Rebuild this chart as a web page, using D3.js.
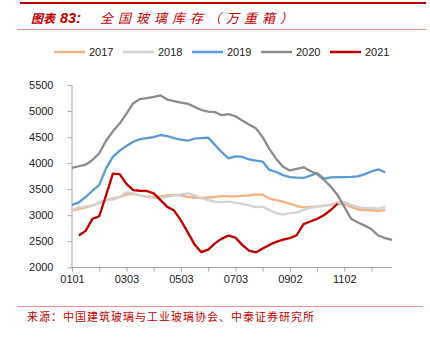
<!DOCTYPE html>
<html><head><meta charset="utf-8">
<script src="https://cdn.jsdelivr.net/npm/d3@7"></script>
<style>
html,body{margin:0;padding:0;background:#fff;}
svg{display:block;}
</style></head>
<body>
<svg id="c" width="430" height="339"></svg>
<script>
const years = ["2017","2018","2019","2020","2021"];
const colors = ["#F4B183","#D3D3D3","#5B9BD5","#8C8C8C","#C00000"];
const tickLabels = ["0101","0303","0503","0703","0902","1102"];
const yTicks = [2000,2500,3000,3500,4000,4500,5000,5500];

const s2017 = [3090,3120,3150,3190,3230,3290,3320,3350,3400,3410,3380,3360,3350,3360,3380,3390,3380,3350,3340,3330,3340,3350,3370,3360,3360,3370,3380,3400,3395,3320,3290,3260,3220,3180,3150,3160,3170,3185,3200,3215,3215,3160,3110,3100,3095,3085,3100];
const s2018 = [3110,3150,3170,3180,3250,3290,3300,3350,3440,3420,3380,3345,3335,3330,3350,3380,3400,3420,3380,3330,3290,3260,3250,3260,3240,3220,3190,3155,3165,3100,3040,3010,3040,3050,3100,3140,3160,3180,3200,3250,3250,3200,3160,3135,3140,3125,3160];
const s2019 = [3200,3245,3350,3470,3580,3900,4120,4240,4330,4410,4460,4480,4500,4540,4520,4480,4450,4430,4470,4480,4490,4350,4210,4090,4130,4120,4070,4050,4030,3870,3830,3770,3730,3720,3715,3760,3810,3700,3725,3730,3730,3735,3745,3790,3840,3880,3825];
const s2020 = [3910,3940,3970,4060,4190,4430,4610,4760,4950,5150,5230,5250,5270,5300,5220,5190,5160,5140,5080,5020,4990,4980,4920,4940,4900,4820,4740,4670,4500,4270,4080,3930,3860,3890,3920,3850,3790,3680,3550,3390,3160,2930,2860,2800,2730,2610,2560,2525];
const s2021 = [null,2610,2700,2930,2980,3380,3800,3790,3600,3480,3470,3465,3420,3290,3160,3090,2900,2670,2440,2290,2340,2460,2550,2610,2570,2430,2320,2285,2360,2430,2490,2530,2560,2615,2830,2880,2930,3000,3100,3220];
const series = [s2017,s2018,s2019,s2020,s2021];

const svg = d3.select("#c");
const red = "#C00000";

// header
svg.append("line").attr("x1",20).attr("x2",426).attr("y1",3).attr("y2",3)
  .attr("stroke",red).attr("stroke-width",2.2);
const title = svg.append("text").attr("x",31).attr("y",23)
  .attr("fill",red).attr("font-size",12).attr("font-style","italic").attr("font-weight","bold")
  .attr("font-family","'Noto Sans CJK SC', sans-serif");
title.append("tspan").text("图表");
title.append("tspan").attr("x",60).attr("font-family","'Liberation Sans', Arial, sans-serif").attr("font-size",14.5).text("83:");
title.append("tspan").attr("x",100).attr("letter-spacing",5).attr("font-weight","normal").attr("font-size",13).text("全国玻璃库存（万重箱）");
svg.append("line").attr("x1",17).attr("x2",426).attr("y1",29.5).attr("y2",29.5)
  .attr("stroke","#E58C8C").attr("stroke-width",1);

// legend
years.forEach((y,i)=>{
  const g = svg.append("g").attr("transform",`translate(${54+i*69},52)`);
  g.append("line").attr("x1",0).attr("x2",31).attr("stroke",colors[i]).attr("stroke-width",2.5);
  g.append("text").attr("x",35).attr("y",4).attr("font-size",11)
    .attr("font-family","'Liberation Sans', Arial, sans-serif").attr("fill","#222").text(y);
});

// scales
const x = d3.scaleLinear().domain([0,47]).range([72,392]);
const y = d3.scaleLinear().domain([2000,5500]).range([267.3,85]);

// y axis
const ya = svg.append("g").attr("transform","translate(71.5,0)")
  .call(d3.axisLeft(y).tickValues(yTicks).tickSize(4).tickSizeOuter(0).tickPadding(14).tickFormat(d3.format("d")));
ya.select(".domain").attr("stroke","#A6A6A6");
ya.selectAll(".tick line").attr("stroke","#A6A6A6");
ya.selectAll("text").attr("font-size",11).attr("fill","#222").attr("font-family","'Liberation Sans', Arial, sans-serif");

// x axis
const xTickVals = d3.range(0,45,4);
const xa = svg.append("g").attr("transform","translate(0,267.5)")
  .call(d3.axisBottom(x).tickValues(xTickVals).tickSize(4).tickSizeOuter(0).tickPadding(4)
    .tickFormat(d => (d % 8 === 0) ? tickLabels[d/8] : ""));
xa.select(".domain").attr("stroke","#A6A6A6").attr("d","M71,0H392");
xa.selectAll(".tick line").attr("stroke","#A6A6A6");
xa.selectAll("text").attr("font-size",11).attr("fill","#222").attr("font-family","'Liberation Sans', Arial, sans-serif");

// lines
const line = d3.line().defined(d=>d!=null).x((d,i)=>x(i)).y(d=>y(d));
series.forEach((s,i)=>{
  svg.append("path").datum(s).attr("d",line).attr("fill","none")
    .attr("stroke",colors[i]).attr("stroke-width",2.3).attr("stroke-linejoin","round");
});

// footer
svg.append("line").attr("x1",17).attr("x2",423).attr("y1",306.5).attr("y2",306.5)
  .attr("stroke","#E58C8C").attr("stroke-width",1);
svg.append("text").attr("x",27).attr("y",321).attr("fill",red).attr("font-size",11)
  .attr("letter-spacing",1.0).attr("font-family","'Noto Sans CJK SC', sans-serif")
  .text("来源：中国建筑玻璃与工业玻璃协会、中泰证券研究所");
</script>
</body></html>
